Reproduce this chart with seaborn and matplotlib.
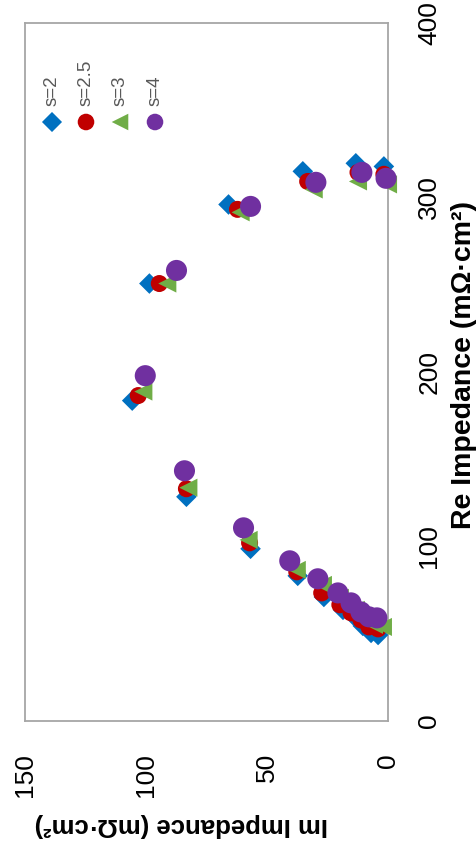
import matplotlib
matplotlib.use("Agg")
import matplotlib.pyplot as plt
import pandas as pd
import seaborn as sns

# Nyquist data: real and imaginary impedance (mOhm*cm^2) for each s value
series_labels = ["s=2", "s=2.5", "s=3", "s=4"]

re_s2 = [49.3, 50.5, 54.5, 59.1, 63.7, 71.1, 83.2, 98.7, 128.5, 183.6, 250.7, 296.0, 315.0, 319.6, 317.8]
im_s2 = [4.1, 7.0, 10.4, 13.3, 18.6, 26.5, 37.3, 56.8, 83.3, 105.7, 98.6, 65.9, 35.2, 13.3, 1.7]

re_s25 = [52.8, 53.9, 57.9, 62.0, 66.6, 73.4, 85.5, 102.1, 133.1, 186.5, 250.7, 293.2, 309.2, 314.4, 313.3]
im_s25 = [4.1, 7.9, 11.2, 15.3, 19.9, 27.4, 37.7, 57.2, 83.3, 103.2, 94.5, 62.2, 33.2, 12.4, 1.7]

re_s3 = [53.9, 55.1, 59.1, 63.7, 70.6, 78.0, 86.6, 103.8, 133.7, 188.8, 250.7, 291.5, 304.6, 309.2, 307.5]
im_s3 = [2.1, 5.8, 9.1, 13.3, 19.9, 26.9, 37.7, 57.6, 82.5, 101.1, 91.2, 60.9, 30.7, 12.4, 0.0]

re_s4 = [59.1, 59.7, 62.5, 67.7, 73.4, 81.5, 91.8, 110.7, 143.4, 197.9, 258.2, 294.9, 308.7, 314.4, 311.0]
im_s4 = [4.6, 7.9, 11.2, 15.3, 20.7, 29.0, 40.6, 59.7, 84.1, 100.3, 87.4, 56.8, 29.8, 10.8, 0.8]

im_ticks = [150, 100, 50, 0]
re_ticks = [0, 100, 200, 300, 400]

colors = ["#0070C0", "#C00000", "#70AD47", "#7030A0"]
markers = ["D", "o", "<", "o"]
sizes = [110, 150, 170, 230]

sns.set_style("white")
plt.rcParams["font.family"] = ["Liberation Sans", "DejaVu Sans"]

fig = plt.figure(figsize=(4.77, 8.48), dpi=100)
ax = fig.add_axes([25 / 477, 127 / 848, 363 / 477, 698 / 848])

data = [(re_s2, im_s2), (re_s25, im_s25), (re_s3, im_s3), (re_s4, im_s4)]
for (re_vals, im_vals), lab, col, mk, sz in zip(data, series_labels, colors, markers, sizes):
    df = pd.DataFrame({"Im": im_vals, "Re": re_vals})
    sns.scatterplot(data=df, x="Im", y="Re", ax=ax, color=col, marker=mk, s=sz,
                    edgecolor="none", linewidth=0, legend=False, clip_on=False, zorder=3)

ax.set_xlim(150, 0)
ax.set_ylim(0, 400)
ax.set_xticks(im_ticks)
ax.set_yticks(re_ticks)
ax.yaxis.tick_right()
ax.set_xlabel("")
ax.set_ylabel("")
ax.tick_params(axis="x", length=0, pad=23, labelsize=19, labelrotation=90, colors="black")
ax.tick_params(axis="y", length=0, pad=21, labelsize=19, labelrotation=90, colors="black")
for lbl in ax.get_yticklabels():
    lbl.set_verticalalignment("center")

for sp in ax.spines.values():
    sp.set_visible(True)
    sp.set_color("#a6a6a6")
    sp.set_linewidth(1.3)

# axis titles
fig.text(181 / 477, 1 - 825 / 848, "Im Impedance (mΩ·cm²)", rotation=180,
         ha="center", va="center", fontsize=18.5, fontweight="bold", color="black")
fig.text(464 / 477, 1 - 365 / 848, "Re Impedance (mΩ·cm²)", rotation=90,
         ha="center", va="center", fontsize=20.5, fontweight="bold", color="black")

# legend: markers with rotated labels above
leg_x = [52, 86, 120, 155]
leg_y = 122
for x, lab, col, mk, sz in zip(leg_x, series_labels, colors, markers, sizes):
    fx, fy = x / 477, 1 - leg_y / 848
    ax.scatter([fx], [fy], transform=fig.transFigure, s=min(sz, 150) * 0.95, marker=mk,
               color=col, edgecolor="none", clip_on=False, zorder=4)
    fig.text(fx, 1 - 106 / 848, lab, rotation=90, ha="center", va="bottom",
             fontsize=13.5, color="#595959")

fig.savefig("out.png", dpi=100)
